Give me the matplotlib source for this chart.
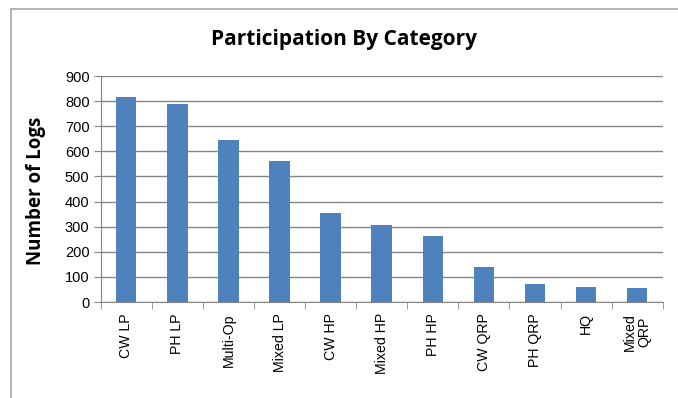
import matplotlib
matplotlib.use("Agg")
import matplotlib.pyplot as plt
from matplotlib.patches import Rectangle

# Logs submitted per entry category
categories = ["CW LP", "PH LP", "Multi-Op", "Mixed LP", "CW HP", "Mixed HP",
              "PH HP", "CW QRP", "PH QRP", "HQ", "Mixed\nQRP"]
logs = [817, 787, 644, 560, 356, 308, 265, 139, 70, 61, 56]
y_ticks = [0, 100, 200, 300, 400, 500, 600, 700, 800, 900]

bar_color = "#4F81BD"
grid_color = "#868686"

fig = plt.figure(figsize=(6.78, 3.98), dpi=100)

# Chart-area frame (only left and top edges fall inside the image)
fig.patches.append(Rectangle((11 / 678, -0.1), 2.0, (398 - 9) / 398 + 0.1,
                             transform=fig.transFigure, fill=False,
                             edgecolor="#A6A6A6", linewidth=1.2))

ax = fig.add_axes([0.1485, 0.241, 0.829, 0.568])
x = list(range(len(categories)))
ax.bar(x, logs, width=0.4, color=bar_color, zorder=3)

ax.set_xlim(-0.5, len(categories) - 0.5)
ax.set_ylim(0, 900)
ax.set_yticks(y_ticks)
ax.yaxis.grid(True, color=grid_color, linewidth=1.0, zorder=0)

# Category labels at bar centers, tick marks at category boundaries
ax.set_xticks(x)
ax.set_xticklabels(categories, rotation=90, fontsize=10.2,
                   family="Liberation Sans", va="top", ha="center",
                   linespacing=1.0)
ax.tick_params(axis="x", which="major", length=0, pad=8)
ax.set_xticks([i - 0.5 for i in range(len(categories) + 1)], minor=True)
ax.tick_params(axis="x", which="minor", length=5, color=grid_color)
ax.tick_params(axis="y", length=5, color=grid_color, labelsize=10.5, pad=3)
for lbl in ax.get_yticklabels():
    lbl.set_family("Liberation Sans")

for side in ["top", "right"]:
    ax.spines[side].set_visible(False)
for side in ["left", "bottom"]:
    ax.spines[side].set_color(grid_color)

ax.set_ylabel("Number of Logs", fontsize=13.5, fontweight="bold",
              family="Open Sans")
ax.yaxis.set_label_coords(-0.098, 0.49)
fig.text(0.508, 0.902, "Participation By Category", ha="center", va="center",
         fontsize=15, fontweight="bold", family="Open Sans")

fig.savefig("out.png", dpi=100)
